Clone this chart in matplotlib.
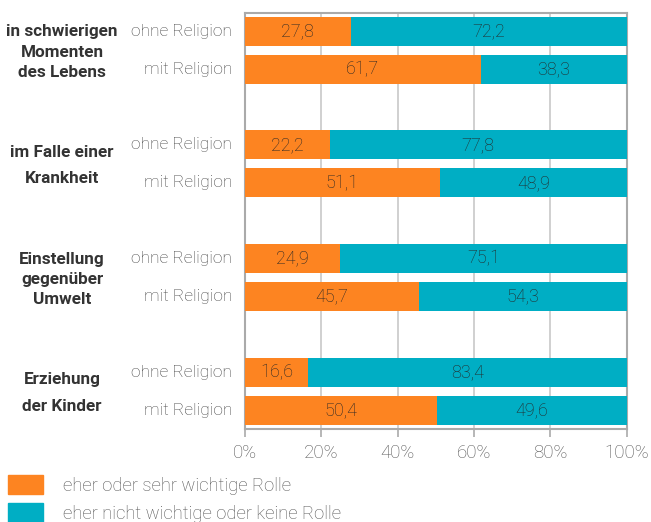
import numpy as np
import matplotlib.pyplot as plt
from matplotlib.patches import Patch

# Daten
gruppen = ["in schwierigen\nMomenten\ndes Lebens", "im Falle einer\nKrankheit",
           "Einstellung\ngegenüber\nUmwelt", "Erziehung\nder Kinder"]
untergruppen = ["ohne Religion", "mit Religion"]
wichtig = [27.8, 61.7, 22.2, 51.1, 24.9, 45.7, 16.6, 50.4]
nicht_wichtig = [72.2, 38.3, 77.8, 48.9, 75.1, 54.3, 83.4, 49.6]
legende = ["eher oder sehr wichtige Rolle", "eher nicht wichtige oder keine Rolle"]
xticks = [0, 20, 40, 60, 80, 100]

ORANGE = "#FD8421"
TEAL = "#00AEC4"
GRAU = "#AAAAAA"

plt.rcParams['font.family'] = ['Roboto', 'DejaVu Sans']

fig = plt.figure(figsize=(6.51, 5.22), dpi=100)
ax = fig.add_axes([0.376, 0.178, 0.587, 0.797])

y = []
for g in range(len(gruppen)):
    y += [3 * g, 3 * g + 1]
y = np.array(y)

ax.barh(y, wichtig, height=0.77, color=ORANGE, zorder=3)
ax.barh(y, nicht_wichtig, left=wichtig, height=0.77, color=TEAL, zorder=3)

def fmt(v):
    return f"{v:.1f}".replace(".", ",")

for yi, a, b in zip(y, wichtig, nicht_wichtig):
    ax.text(a / 2, yi, fmt(a), ha="center", va="center", fontsize=13,
            color="#262626", fontweight="light", zorder=4)
    ax.text(a + b / 2, yi, fmt(b), ha="center", va="center", fontsize=13,
            color="#262626", fontweight="light", zorder=4)

ax.set_xlim(0, 100)
ax.set_ylim(10.5, -0.48)
ax.set_xticks(xticks)
ax.set_xticklabels([f"{t}%" for t in xticks], fontsize=13.5, color="#555555",
                   fontweight="light")
ax.set_yticks([])
ax.grid(axis="x", color="#C8C8C8", linewidth=1.2, zorder=0)
for s in ax.spines.values():
    s.set_color(GRAU)
    s.set_linewidth(1.5)
ax.tick_params(axis="x", length=6, width=1.2, color=GRAU, pad=5)

# Beschriftungen links
for i, yi in enumerate(y):
    ax.text(-3.3, yi, untergruppen[i % 2], ha="right", va="center", fontsize=12.5,
            color="#444444", fontweight="light")

abstand = [1.45, 1.95, 1.45, 1.95]
for g, name in enumerate(gruppen):
    ax.text(-47.8, 3 * g + 0.55, name, ha="center", va="center", fontsize=12.3,
            color="#333333", fontweight="bold", linespacing=abstand[g])

handles = [Patch(color=ORANGE), Patch(color=TEAL)]
fig.legend(handles, legende, loc="upper left",
           bbox_to_anchor=(8 / 651, 1 - 475 / 522),
           frameon=False, handlelength=1.9, handleheight=1.2,
           labelspacing=0.45, handletextpad=1.08, borderpad=0, borderaxespad=0,
           labelcolor="#555555", prop={"weight": "light", "size": 13.3})

fig.savefig("out.png", dpi=100)
